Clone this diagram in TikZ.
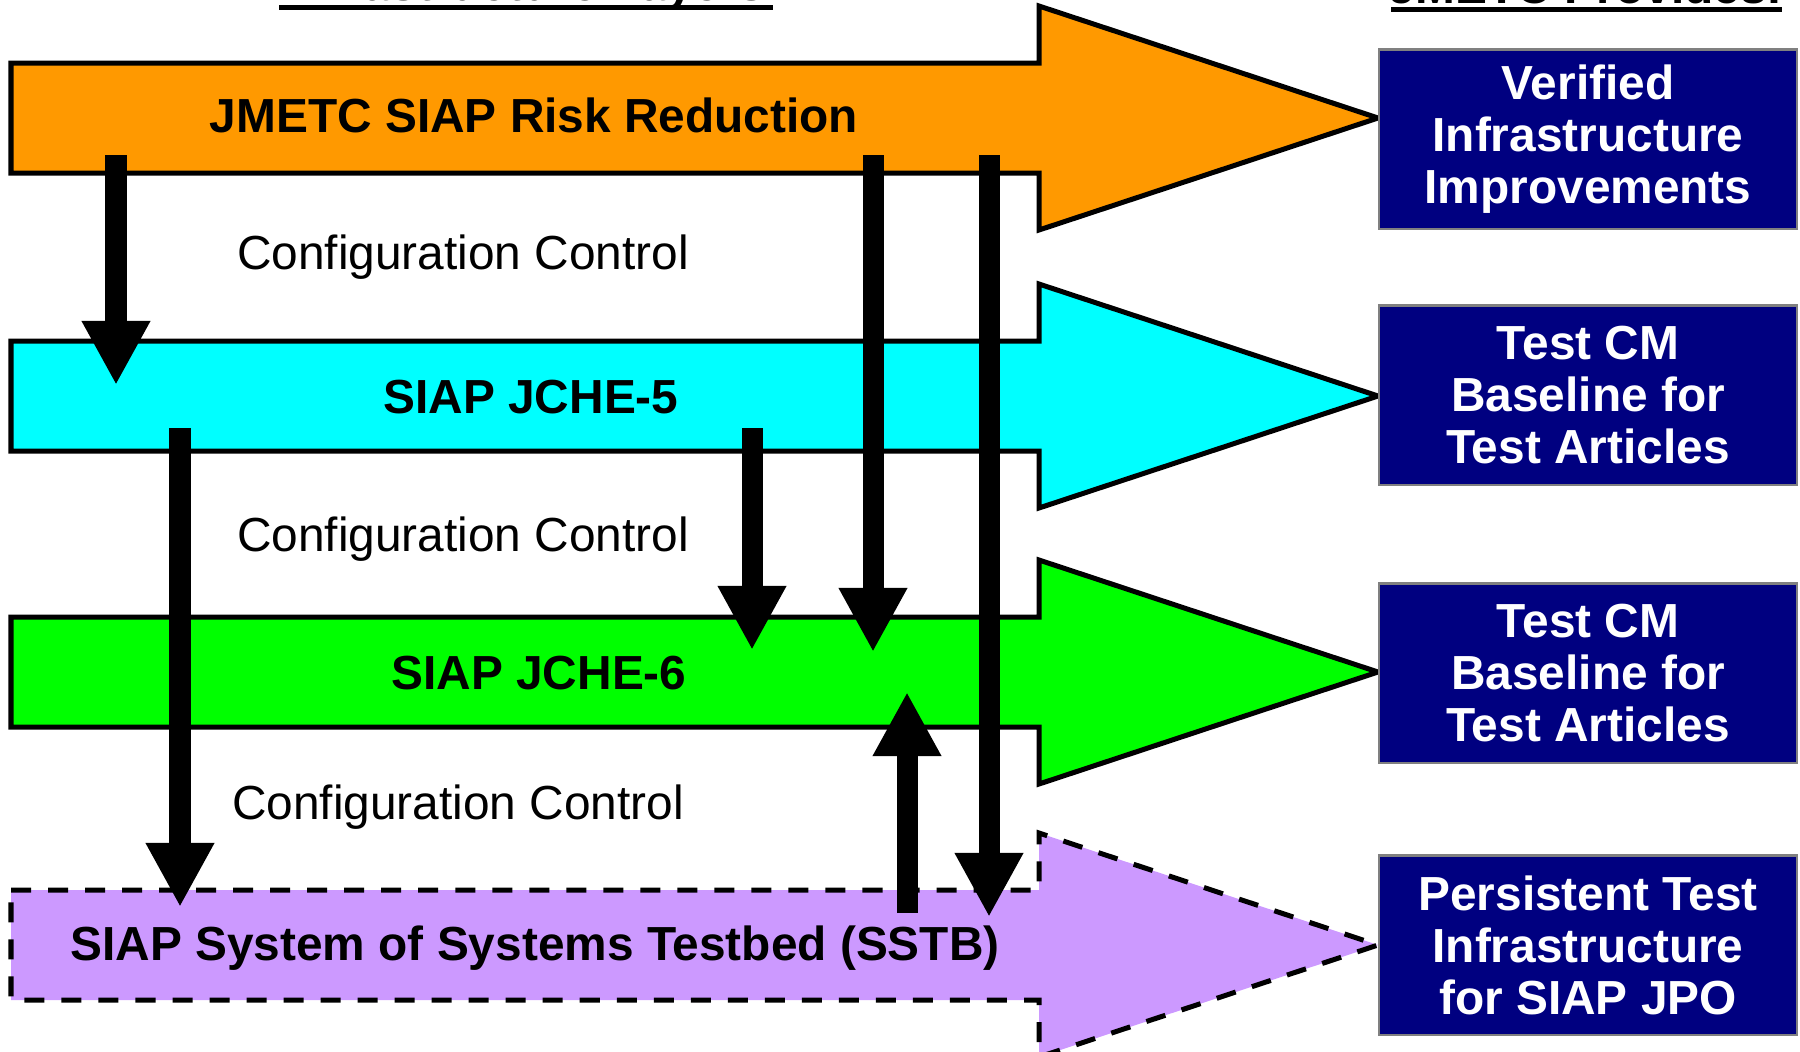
\documentclass[tikz,border=0pt]{standalone}
\usepackage{fontspec}
\setmainfont{Liberation Sans}
\usetikzlibrary{arrows.meta}
\definecolor{rrorange}{HTML}{FF9900}
\definecolor{jchecyan}{HTML}{00FFFF}
\definecolor{jchegreen}{HTML}{00FF00}
\definecolor{sstbpurple}{HTML}{CC99FF}
\definecolor{jmetcblue}{HTML}{000080}

\begin{document}
\begin{tikzpicture}[x=0.01cm, y=-0.01cm,
  band/.style={draw=black, line width=0.05cm},
  sstbdash/.style={dash pattern=on 0.2cm off 0.17cm},
  bandlabel/.style={anchor=base, font=\fontsize{13.6}{14.8}\selectfont\bfseries},
  cclabel/.style={anchor=base, font=\fontsize{13.6}{14.8}\selectfont},
  provides/.style={fill=jmetcblue, draw=gray, line width=0.6pt, text=white, align=center,
    minimum width=4.17cm, minimum height=1.79cm, inner sep=0pt,
    font=\fontsize{13.6}{14.8}\selectfont\bfseries},
  header/.style={anchor=base, inner sep=0pt, font=\fontsize{13.6}{14.8}\selectfont\bfseries},
  ctrl/.style={line width=0.21cm, -{Triangle[length=0.64cm,width=0.64cm]}}]
  \useasboundingbox (0,0) rectangle (1800,1051);

  % column headings (cut by the page edge)
  \node (hdrL) at (526,0.5) [header]{Infrastructure Layers};
  \fill (279,5) rectangle (773,10);
  \node (hdrR) at (1586,3.5) [header]{JMETC Provides:};
  \fill (1391,7) rectangle (1782,12);

  % the four layers
  \foreach \t/\c/\s in {118/rrorange/solid, 396/jchecyan/solid, 672/jchegreen/solid, 945/sstbpurple/sstbdash}{
    \draw[band, fill=\c, \s] (11,\t-55) -- (1039,\t-55) -- (1039,\t-112) -- (1378,\t)
      -- (1039,\t+112) -- (1039,\t+55) -- (11,\t+55) -- cycle;
  }
  \node (rr) at (534,132) [bandlabel]{JMETC SIAP Risk Reduction};
  \node (j5) at (531,413) [bandlabel]{SIAP JCHE-5};
  \node (j6) at (539,689) [bandlabel]{SIAP JCHE-6};
  \node (st) at (535,960) [bandlabel]{SIAP System of Systems Testbed (SSTB)};

  \node (cc1) at (463,269) [cclabel]{Configuration Control};
  \node (cc2) at (463,551) [cclabel]{Configuration Control};
  \node (cc3) at (458,819) [cclabel]{Configuration Control};

  % what each layer gives
  \node (out1) at (1588,139) [provides]{Verified\\Infrastructure\\Improvements};
  \node (out2) at (1588,395) [provides]{Test CM\\Baseline for\\Test Articles};
  \node (out3) at (1588,673) [provides]{Test CM\\Baseline for\\Test Articles};
  \node (out4) at (1588,945) [provides]{Persistent Test\\Infrastructure\\for SIAP JPO};

  % control flow between layers
  \coordinate (rrA) at (116,155); \coordinate (j5A) at (116,385);
  \coordinate (rrB) at (873,155); \coordinate (j6B) at (873,652);
  \coordinate (rrC) at (989,155); \coordinate (stC) at (989,917);
  \coordinate (j5D) at (180,428); \coordinate (stD) at (180,907);
  \coordinate (j5E) at (752,428); \coordinate (j6E) at (752,650);
  \coordinate (stF) at (907,913); \coordinate (j6F) at (907,692);
  \foreach \a/\b in {rrA/j5A, rrB/j6B, rrC/stC, j5D/stD, j5E/j6E, stF/j6F}{
    \draw[ctrl] (\a) -- (\b);
  }
\end{tikzpicture}
\end{document}
